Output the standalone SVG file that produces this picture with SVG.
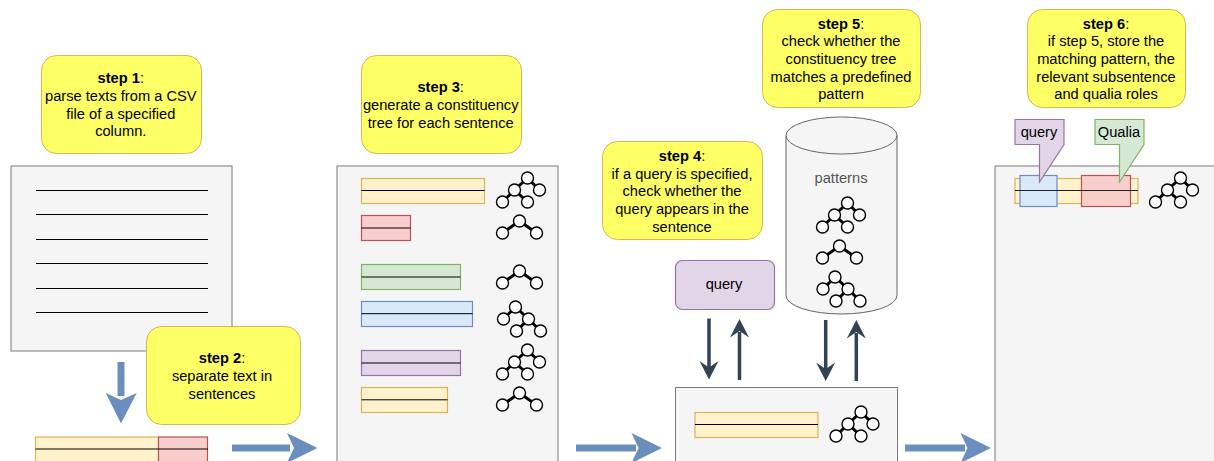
<svg xmlns="http://www.w3.org/2000/svg" width="1214" height="461" viewBox="0 0 1214 461">
<style>
text{font-family:"Liberation Sans",Arial,sans-serif;font-size:14.67px;fill:#000;text-anchor:middle}
.note{fill:#ffff66;stroke:#d6b656;stroke-width:1}
.panel{fill:#f5f5f5;stroke:#7a7a7a;stroke-width:1}
.y{fill:#fff2cc;stroke:#d6b656;stroke-width:1.2}.r{fill:#f8cecc;stroke:#b85450;stroke-width:1.2}.g{fill:#d5e8d4;stroke:#82b366;stroke-width:1.2}.b{fill:#dae8fc;stroke:#6c8ebf;stroke-width:1.2}.p{fill:#e1d5e7;stroke:#9673a6;stroke-width:1.2}
.l{stroke:#000;stroke-width:1;fill:none}
.e{stroke:#000;stroke-width:3;fill:none}
.n{fill:#fff;stroke:#000;stroke-width:1.4}
.big{stroke:#6c8ebf;stroke-width:7;fill:none}
.dark{stroke:#314354;stroke-width:3.5;fill:none}
.h1{fill:#6c8ebf}.h2{fill:#314354}
</style>
<defs>
<g id="ta"><path class="e" d="M0 0L-13 12L-25 24M-13 12L0 24M0 0L12 12"/><circle class="n" r="6"/><circle class="n" cx="-13" cy="12" r="6"/><circle class="n" cx="-25" cy="24" r="6"/><circle class="n" cx="0" cy="24" r="6"/><circle class="n" cx="12" cy="12" r="6"/></g>
<g id="tb"><path class="e" d="M-17 12L0 0L17 12"/><circle class="n" r="6"/><circle class="n" cx="-17" cy="12" r="6"/><circle class="n" cx="17" cy="12" r="6"/></g>
<g id="tc"><path class="e" d="M-12 12L0 0L13 12L1 24M13 12L25 24"/><circle class="n" r="6"/><circle class="n" cx="-12" cy="12" r="6"/><circle class="n" cx="13" cy="12" r="6"/><circle class="n" cx="1" cy="24" r="6"/><circle class="n" cx="25" cy="24" r="6"/></g>
</defs>
<g id="panels">
<rect id="panel-text" class="panel" x="11" y="166" width="221" height="185"/>
<rect id="panel-trees" class="panel" x="337" y="166" width="221" height="300"/>
<rect id="panel-match" class="panel" x="675.500" y="387.500" width="222" height="80"/>
<rect id="panel-result" class="panel" x="995" y="166" width="225" height="300"/>
</g>
<g id="text-lines"><path class="l" d="M36 190.500H208M36 214.500H208M36 239.500H208M36 263.500H208M36 288.500H208M36 312.500H208"/></g>
<g id="sentences-step2"><rect class="y" x="35.500" y="437" width="123" height="30"/><rect class="r" x="158.500" y="437" width="49" height="30"/><path class="l" d="M35.500 449H208"/></g>
<g id="sentences-step3">
<rect class="y" x="361.500" y="178.500" width="123" height="25"/><path class="l" d="M361.500 190.500H484.500"/>
<rect class="r" x="361.500" y="215.500" width="49" height="25"/><path class="l" d="M361.500 228H410.500"/>
<rect class="g" x="361.500" y="264.500" width="99" height="25"/><path class="l" d="M361.500 277H460.500"/>
<rect class="b" x="361.500" y="301.500" width="111" height="25"/><path class="l" d="M361.500 313.700H472.500"/>
<rect class="p" x="361.500" y="350.500" width="99" height="25"/><path class="l" d="M361.500 363H460.500"/>
<rect class="y" x="361.500" y="387.500" width="86" height="25"/><path class="l" d="M361.500 399.800H447.500"/>
<use href="#ta" x="527.500" y="178"/><use href="#tb" x="519.500" y="221"/><use href="#tb" x="519.500" y="271"/>
<use href="#tc" x="515.500" y="307"/><use href="#ta" x="527.500" y="350"/><use href="#tb" x="519.500" y="393"/>
</g>
<g id="sentence-step4"><rect class="y" x="695" y="412.500" width="123" height="25"/><path class="l" d="M695 424.500H818"/><use href="#ta" x="861" y="412"/></g>
<g id="query"><rect class="p" x="675.500" y="260.500" width="99" height="49" rx="7"/><text x="724" y="289">query</text></g>
<g id="patterns">
<path d="M786 135.500A55.500 18.500 0 0 1 897 135.500V295.500A55.500 18.500 0 0 1 786 295.500Z" fill="#f5f5f5" stroke="#666"/>
<path d="M786 135.500A55.500 18.500 0 0 0 897 135.500" fill="none" stroke="#666"/>
<text x="841" y="183" style="fill:#555">patterns</text>
<use href="#ta" x="847.500" y="203"/><use href="#tb" x="839.500" y="246"/><use href="#tc" x="835" y="277"/>
</g>
<g id="result">
<rect class="y" x="1015" y="178.500" width="123" height="25"/>
<rect class="b" x="1020" y="175.500" width="37" height="31"/>
<rect class="r" x="1081.500" y="175.500" width="49" height="31"/>
<path d="M1015 190.500H1138" stroke="#222" fill="none"/>
<use href="#ta" x="1180.500" y="178"/>
<path class="p" d="M1015 119.500H1064V144.500L1039.500 182V144.500H1015Z"/><text x="1039" y="137">query</text>
<path class="g" d="M1095 119.500H1144V144.500L1119.500 182V144.500H1095Z"/><text x="1119" y="137">Qualia</text>
</g>
<g id="connectors">
<path class="big" d="M121 362V396"/><path class="h1" d="M121 423.500L105.700 393L121 400L136.700 393Z"/>
<path class="big" d="M232 448H290"/><path class="h1" d="M317.500 448L287 433L294 448L287 463Z"/>
<path class="big" d="M576 448H636"/><path class="h1" d="M662 448L631.500 433L638.500 448L631.500 463Z"/>
<path class="big" d="M905 448H965"/><path class="h1" d="M991 448L960.500 433L967.500 448L960.500 463Z"/>
<path class="dark" d="M709 318.500V368"/><path class="h2" d="M709 379.500L699.500 361L709 367.500L718.500 361Z"/>
<path class="dark" d="M739.500 380V332"/><path class="h2" d="M739.500 319L730 337.500L739.500 331L749 337.500Z"/>
<path class="dark" d="M825.700 320V370"/><path class="h2" d="M825.700 381L816.200 362.500L825.700 369L835.200 362.500Z"/>
<path class="dark" d="M856.300 381V333"/><path class="h2" d="M856.300 320L846.800 338.500L856.300 332L865.800 338.500Z"/>
</g>
<g id="step1"><rect class="note" x="41.500" y="55.500" width="160" height="98" rx="15"/><text x="120.800" y="83"><tspan font-weight="bold">step 1</tspan>:</text><text x="120.800" y="100.500">parse texts from a CSV</text><text x="120.800" y="118.500">file of a specified</text><text x="120.800" y="136">column.</text></g>
<g id="step2"><rect class="note" x="146.500" y="326.500" width="154" height="98" rx="15"/><text x="222" y="363"><tspan font-weight="bold">step 2</tspan>:</text><text x="222" y="380.500">separate text in</text><text x="222" y="398.500">sentences</text></g>
<g id="step3"><rect class="note" x="361.500" y="55.500" width="160" height="98" rx="15"/><text x="440.700" y="92"><tspan font-weight="bold">step 3</tspan>:</text><text x="440.700" y="109.500">generate a constituency</text><text x="440.700" y="127.500">tree for each sentence</text></g>
<g id="step4"><rect class="note" x="602.500" y="141.500" width="160" height="98" rx="15"/><text x="682" y="161"><tspan font-weight="bold">step 4</tspan>:</text><text x="682" y="178.500">if a query is specified,</text><text x="682" y="196">check whether the</text><text x="682" y="214">query appears in the</text><text x="682" y="231.500">sentence</text></g>
<g id="step5"><rect class="note" x="762.500" y="9.500" width="158" height="98" rx="15"/><text x="841" y="28.500"><tspan font-weight="bold">step 5</tspan>:</text><text x="841" y="46">check whether the</text><text x="841" y="63.500">constituency tree</text><text x="841" y="81.500">matches a predefined</text><text x="841" y="99">pattern</text></g>
<g id="step6"><rect class="note" x="1027.500" y="9.500" width="158" height="98" rx="15"/><text x="1106" y="28.500"><tspan font-weight="bold">step 6</tspan>:</text><text x="1106" y="46">if step 5, store the</text><text x="1106" y="63.500">matching pattern, the</text><text x="1106" y="81.500">relevant subsentence</text><text x="1106" y="99">and qualia roles</text></g>
</svg>
